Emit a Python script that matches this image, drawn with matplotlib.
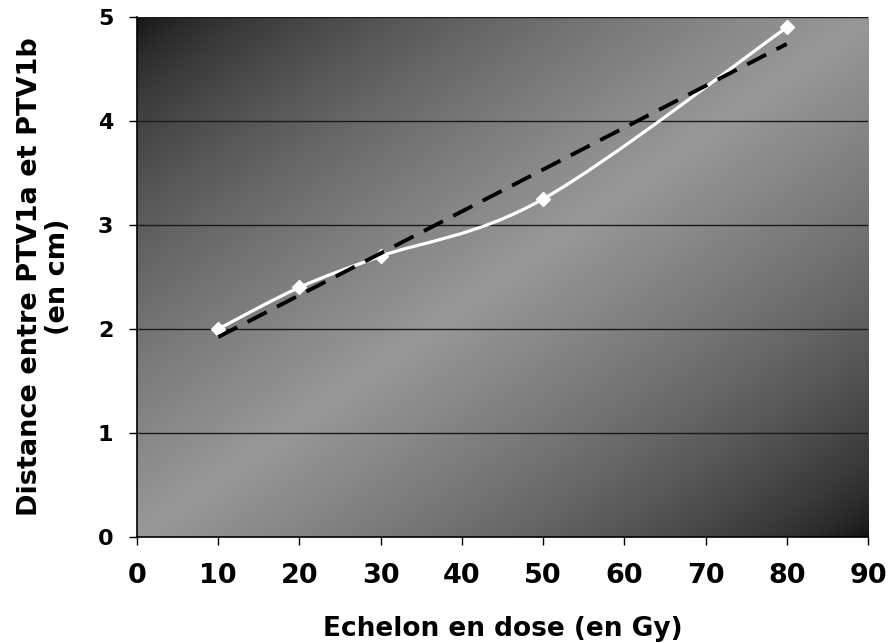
import numpy as np
import matplotlib

matplotlib.use("Agg")
import matplotlib.pyplot as plt
from matplotlib.path import Path
from matplotlib.patches import PathPatch


# ======================================================================================== #
# Données.
# ======================================================================================== #
echelons_dose = [10, 20, 30, 50, 80]
distances = [2.0, 2.4, 2.7, 3.25, 4.9]

ticks_x = [0, 10, 20, 30, 40, 50, 60, 70, 80, 90]
ticks_y = [0, 1, 2, 3, 4, 5]

titre_x = "Echelon en dose (en Gy)"
titre_y = "Distance entre PTV1a et PTV1b\n(en cm)"


def chemin_lisse(x, y):
    """
    Courbe lissée façon Excel (Bézier cubique, points de contrôle de Catmull-Rom).
    """
    pts = np.column_stack([x, y]).astype(float)
    n = len(pts)
    sommets = [pts[0]]
    codes = [Path.MOVETO]

    for i in range(n - 1):
        p_avant = pts[i - 1] if i > 0 else pts[i]
        p_apres = pts[i + 2] if i + 2 < n else pts[i + 1]
        c1 = pts[i] + (pts[i + 1] - p_avant) / 6
        c2 = pts[i + 1] - (p_apres - pts[i]) / 6
        sommets += [c1, c2, pts[i + 1]]
        codes += [Path.CURVE4] * 3

    return Path(sommets, codes)


plt.rcParams["font.family"] = ["DejaVu Sans"]
plt.rcParams["font.weight"] = "bold"

fig = plt.figure(figsize=(8.88, 6.43), dpi=100)
ax = fig.add_axes([137 / 888, 1 - 537 / 643, 731 / 888, 520 / 643])

# ======================================================================================== #
# Fond en dégradé diagonal : sombre -> clair -> sombre.
# ======================================================================================== #
u, v = np.meshgrid(np.linspace(0, 1, 400), np.linspace(0, 1, 300))
t = (u + v) / 2
gris = (18 + (152 - 18) * (1 - np.abs(2 * t - 1)) ** 0.65) / 255
fond = np.dstack([gris, gris, gris])
ax.imshow(
    fond,
    extent=[0, 90, 0, 5],
    origin="upper",
    aspect="auto",
    interpolation="bilinear",
    zorder=0,
)

ax.set_xlim(0, 90)
ax.set_ylim(0, 5)

for valeur in ticks_y[1:]:
    ax.axhline(valeur, color="#1a1a1a", linewidth=1.0, zorder=1)

# Courbe lissée blanche avec marqueurs losanges.
ax.add_patch(
    PathPatch(
        chemin_lisse(echelons_dose, distances),
        facecolor="none",
        edgecolor="white",
        linewidth=2.3,
        zorder=3,
    )
)
ax.plot(
    echelons_dose,
    distances,
    linestyle="none",
    marker="D",
    markersize=7,
    color="white",
    zorder=4,
)

# Courbe de tendance linéaire.
pente, origine = np.polyfit(echelons_dose, distances, 1)
x_tendance = np.array([echelons_dose[0], echelons_dose[-1]])
ax.plot(
    x_tendance,
    pente * x_tendance + origine,
    color="black",
    linewidth=2.8,
    dashes=(5.5, 3),
    zorder=5,
)

ax.set_xticks(ticks_x)
ax.set_yticks(ticks_y)
ax.tick_params(axis="both", direction="out", length=6, width=1, color="black")
ax.tick_params(axis="x", labelsize=19.5, pad=13)
ax.tick_params(axis="y", labelsize=16, pad=11)

for etiquette in ax.get_xticklabels() + ax.get_yticklabels():
    etiquette.set_fontweight("bold")

ax.spines["top"].set_visible(False)
ax.spines["right"].set_visible(False)
ax.spines["left"].set_linewidth(1.2)
ax.spines["bottom"].set_linewidth(1.2)

ax.set_xlabel(titre_x, fontsize=19, fontweight="bold")
ax.set_ylabel(titre_y, fontsize=19.5, fontweight="bold", linespacing=1.1)
ax.xaxis.set_label_coords(0.5, -0.152)
ax.yaxis.set_label_coords(-0.09, 0.5)

fig.savefig("out.png", dpi=100)
plt.close(fig)
